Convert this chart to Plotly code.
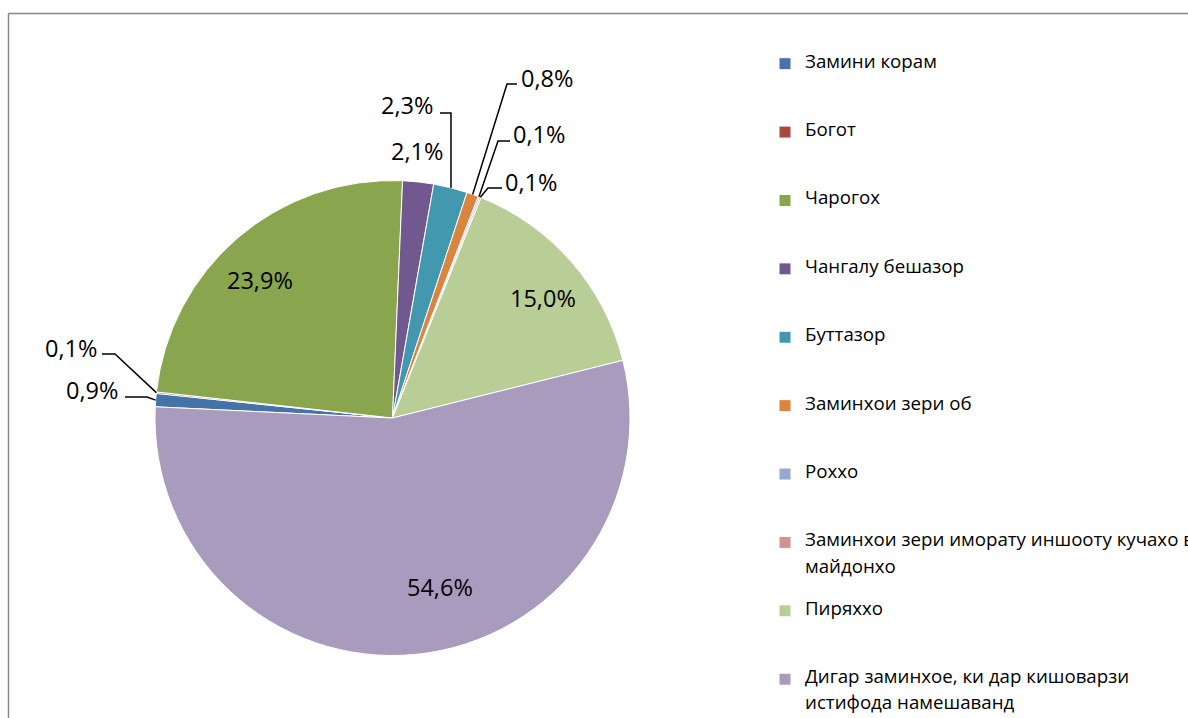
import math
import plotly.graph_objects as go

# ---------------- data ----------------
categories = [
    "Замини корам",
    "Богот",
    "Чарогох",
    "Чангалу бешазор",
    "Буттазор",
    "Заминхои зери об",
    "Роххо",
    "Заминхои зери иморату иншооту кучахо ва<br>майдонхо",
    "Пиряххо",
    "Дигар заминхое, ки дар кишоварзи<br>истифода намешаванд",
]
shares = [0.9, 0.1, 23.9, 2.1, 2.3, 0.8, 0.1, 0.1, 15.0, 54.6]
colors = ["#4572A7", "#AA4643", "#89A54E", "#71588F", "#4198AF",
          "#DB843D", "#93A9CF", "#D19392", "#B9CD96", "#A99BBD"]

pct_text = [f"{v:.1f}".replace(".", ",") + "%" for v in shares]

# ---------------- layout constants (page pixels) ----------------
W, H = 1188, 718
CX, CY, R = 392.5, 418.0, 237.5       # pie centre / radius
ROT = 272.7                           # start angle of first slice (clockwise from 12 o'clock)
FONT = "Open Sans"
LBL_SIZE = 23.5
LEG_TEXT = 18.7                       # visible legend text size
LEG_ROW = 10.06                       # legend line unit (5 lines per row -> 68.4 px rows)

# label placement: index -> (label centre x, y, line start x, elbow x, line y)
label_pos = {
    0: (92, 390, 125, 147, 397),
    1: (71, 348, 102, 115, 354),
    2: (260, 280, None, None, None),
    3: (417, 151, None, None, None),
    4: (407, 105, 440, 451, 113),
    5: (547, 78, 517, 507, 84),
    6: (539, 134, 510, 498, 141),
    7: (531, 182, 502, 488, 188),
    8: (543, 298, None, None, None),
    9: (440, 587, None, None, None),
}


def px(x):
    return x / W


def py(y):
    return 1 - y / H


total = sum(shares)
mid_angles = []
acc = 0.0
for v in shares:
    mid_angles.append(ROT + 360.0 * (acc + v / 2) / total)
    acc += v


def edge_point(i):
    a = math.radians(mid_angles[i])
    return CX + R * math.sin(a), CY - R * math.cos(a)


# legend rows: 5 lines each (text on the middle line, wrapped part two lines lower)
def span(t):
    return f'<span style="font-size:{LEG_TEXT}px">{t}</span>'


legend_labels = []
for c in categories:
    parts = c.split("<br>")
    second = span(parts[1]) if len(parts) > 1 else " "
    legend_labels.append(" <br> <br>" + span(parts[0]) + "<br> <br>" + second)

fig = go.Figure(
    go.Pie(
        labels=legend_labels,
        values=shares,
        sort=False,
        direction="clockwise",
        rotation=ROT,
        marker=dict(colors=colors, line=dict(color="white", width=1)),
        text=pct_text,
        textinfo="none",
        domain=dict(x=[px(CX - R), px(CX + R)], y=[py(CY + R), py(CY - R)]),
        hovertext=[c.replace("<br>", " ") for c in categories],
        hoverinfo="text+percent",
    )
)

annotations = []
shapes = []
for i, (lx, ly, sx, ex, ly2) in label_pos.items():
    annotations.append(dict(
        x=px(lx), y=py(ly), xref="paper", yref="paper",
        text=pct_text[i], showarrow=False, xanchor="center", yanchor="middle",
        font=dict(family=FONT, size=LBL_SIZE, color="black"),
    ))
    if sx is not None:
        ptx, pty = edge_point(i)
        if i == 4:
            ptx = ex
        path = (f"M {px(sx)},{py(ly2)} L {px(ex)},{py(ly2)} "
                f"L {px(ptx)},{py(pty)}")
        shapes.append(dict(type="path", path=path, xref="paper", yref="paper",
                           line=dict(color="black", width=1.5)))

# chart area border (top and left visible)
shapes.append(dict(type="line", xref="paper", yref="paper",
                   x0=px(8.5), y0=py(13.5), x1=px(W + 20), y1=py(13.5),
                   line=dict(color="#888888", width=1.5)))
shapes.append(dict(type="line", xref="paper", yref="paper",
                   x0=px(8.5), y0=py(13.5), x1=px(8.5), y1=py(H + 20),
                   line=dict(color="#888888", width=1.5)))

fig.update_layout(
    width=W, height=H,
    margin=dict(l=0, r=0, t=0, b=0, autoexpand=False),
    paper_bgcolor="white",
    plot_bgcolor="white",
    font=dict(family=FONT, color="black"),
    showlegend=True,
    legend=dict(
        x=px(765), xanchor="left",
        y=py(24.5), yanchor="top",
        font=dict(family=FONT, size=LEG_ROW, color="black"),
        itemwidth=30,
        maxheight=1000,
        bgcolor="rgba(0,0,0,0)",
    ),
    annotations=annotations,
    shapes=shapes,
)

fig.write_html(
    "out.html",
    config={"displayModeBar": False},
    post_script="document.body.style.margin='0';document.body.style.overflow='hidden';",
)
